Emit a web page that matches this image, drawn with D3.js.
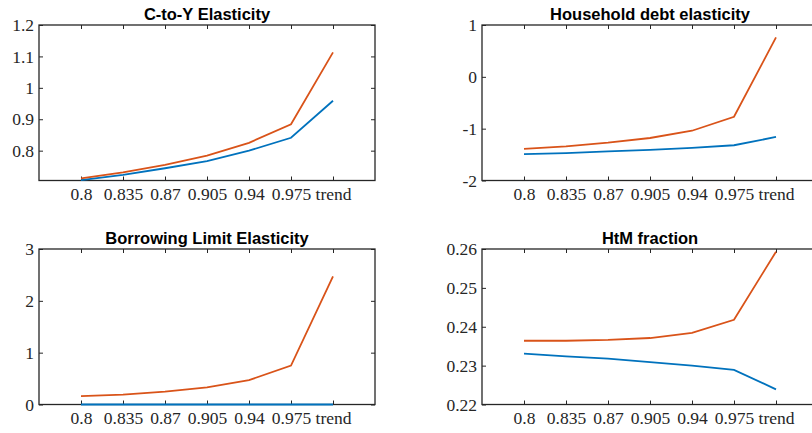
<!DOCTYPE html>
<html>
<head>
<meta charset="utf-8">
<script src="https://cdn.jsdelivr.net/npm/d3@7"></script>
<style>
  body { margin: 0; background: #fff; }
  svg { display: block; }
  .title { font-family: "Liberation Sans", Arial, sans-serif; font-weight: bold; font-size: 16.5px; fill: #000; }
</style>
</head>
<body>
<svg id="chart" width="812" height="433"></svg>
<script>
// x categories (same for every panel)
let categories = ["0.8", "0.835", "0.87", "0.905", "0.94", "0.975", "trend"];

// C-to-Y Elasticity
let cyBlue = [0.706, 0.723, 0.744, 0.767, 0.800, 0.841, 0.959];
let cyOrange = [0.712, 0.731, 0.755, 0.784, 0.825, 0.884, 1.113];
let cyTicks = [0.8, 0.9, 1, 1.1, 1.2];

// Household debt elasticity
let hdBlue = [-1.49, -1.47, -1.44, -1.41, -1.37, -1.32, -1.16];
let hdOrange = [-1.39, -1.34, -1.27, -1.18, -1.04, -0.77, 0.76];
let hdTicks = [-2, -1, 0, 1];

// Borrowing Limit Elasticity
let blBlue = [0, 0, 0, 0, 0, 0, 0];
let blOrange = [0.16, 0.19, 0.25, 0.33, 0.47, 0.75, 2.47];
let blTicks = [0, 1, 2, 3];

// HtM fraction
let htmBlue = [0.2331, 0.2324, 0.2318, 0.2309, 0.2300, 0.2289, 0.2239];
let htmOrange = [0.2364, 0.2364, 0.2366, 0.2371, 0.2384, 0.2418, 0.2593];
let htmTicks = [0.22, 0.23, 0.24, 0.25, 0.26];

let blue = "#0072BD", orange = "#D95319", axisColor = "#262626";
let tickFont = '"Liberation Serif", "DejaVu Serif", serif';

let svg = d3.select("#chart");

let plain = function (d) { return String(d); };
let panels = [
    {title: "C-to-Y Elasticity", x: 39, y: 25, ymin: 0.705, ymax: 1.2, ticks: cyTicks, blue: cyBlue, orange: cyOrange, fmt: plain},
    {title: "Household debt elasticity", x: 482, y: 25, ymin: -2, ymax: 1, ticks: hdTicks, blue: hdBlue, orange: hdOrange, fmt: plain},
    {title: "Borrowing Limit Elasticity", x: 39, y: 249, ymin: 0, ymax: 3, ticks: blTicks, blue: blBlue, orange: blOrange, fmt: plain},
    {title: "HtM fraction", x: 482, y: 249, ymin: 0.22, ymax: 0.26, ticks: htmTicks, blue: htmBlue, orange: htmOrange, fmt: d3.format(".2f")}
];

let w = 336, h = 155.5;

panels.forEach(function (p) {
    let g = svg.append("g").attr("transform", "translate(" + p.x + "," + p.y + ")");

    let x = d3.scaleLinear().domain([0, categories.length + 1]).range([0, w]);
    let y = d3.scaleLinear().domain([p.ymin, p.ymax]).range([h, 0]);
    let idx = d3.range(1, categories.length + 1);

    // axes, ticks inward like matlab
    let xAxis = d3.axisBottom(x).tickValues(idx)
        .tickFormat(function (d) { return categories[d - 1]; })
        .tickSizeInner(-4).tickSizeOuter(0).tickPadding(10);
    let xTop = d3.axisTop(x).tickValues(idx).tickFormat("")
        .tickSizeInner(-4).tickSizeOuter(0);
    let yAxis = d3.axisLeft(y).tickValues(p.ticks).tickFormat(p.fmt)
        .tickSizeInner(-4).tickSizeOuter(0).tickPadding(5);
    let yRight = d3.axisRight(y).tickValues(p.ticks).tickFormat("")
        .tickSizeInner(-4).tickSizeOuter(0);

    let gx = g.append("g").attr("transform", "translate(0," + h + ")").call(xAxis);
    let gt = g.append("g").call(xTop);
    let gy = g.append("g").call(yAxis);
    let gr = g.append("g").attr("transform", "translate(" + w + ",0)").call(yRight);

    [gx, gt, gy, gr].forEach(function (a) {
        a.select(".domain").remove();
        a.selectAll("line").attr("stroke", axisColor);
        a.selectAll("text")
            .attr("fill", axisColor)
            .style("font-family", tickFont)
            .style("font-size", "17.5px");
    });
    gx.selectAll("text").attr("dy", "0.55em");

    // box
    g.append("rect")
        .attr("x", 0).attr("y", 0).attr("width", w).attr("height", h)
        .attr("fill", "none").attr("stroke", axisColor).attr("stroke-width", 1.3);

    // lines (drawn over the box so a zero line stays visible)
    let line = d3.line()
        .x(function (d, i) { return x(i + 1); })
        .y(function (d) { return y(d); });

    g.append("path").datum(p.blue)
        .attr("fill", "none").attr("stroke", blue).attr("stroke-width", 1.8)
        .attr("d", line);
    g.append("path").datum(p.orange)
        .attr("fill", "none").attr("stroke", orange).attr("stroke-width", 1.8)
        .attr("d", line);

    g.append("text").attr("class", "title")
        .attr("x", w / 2).attr("y", -5)
        .attr("text-anchor", "middle")
        .text(p.title);
});
</script>
</body>
</html>
